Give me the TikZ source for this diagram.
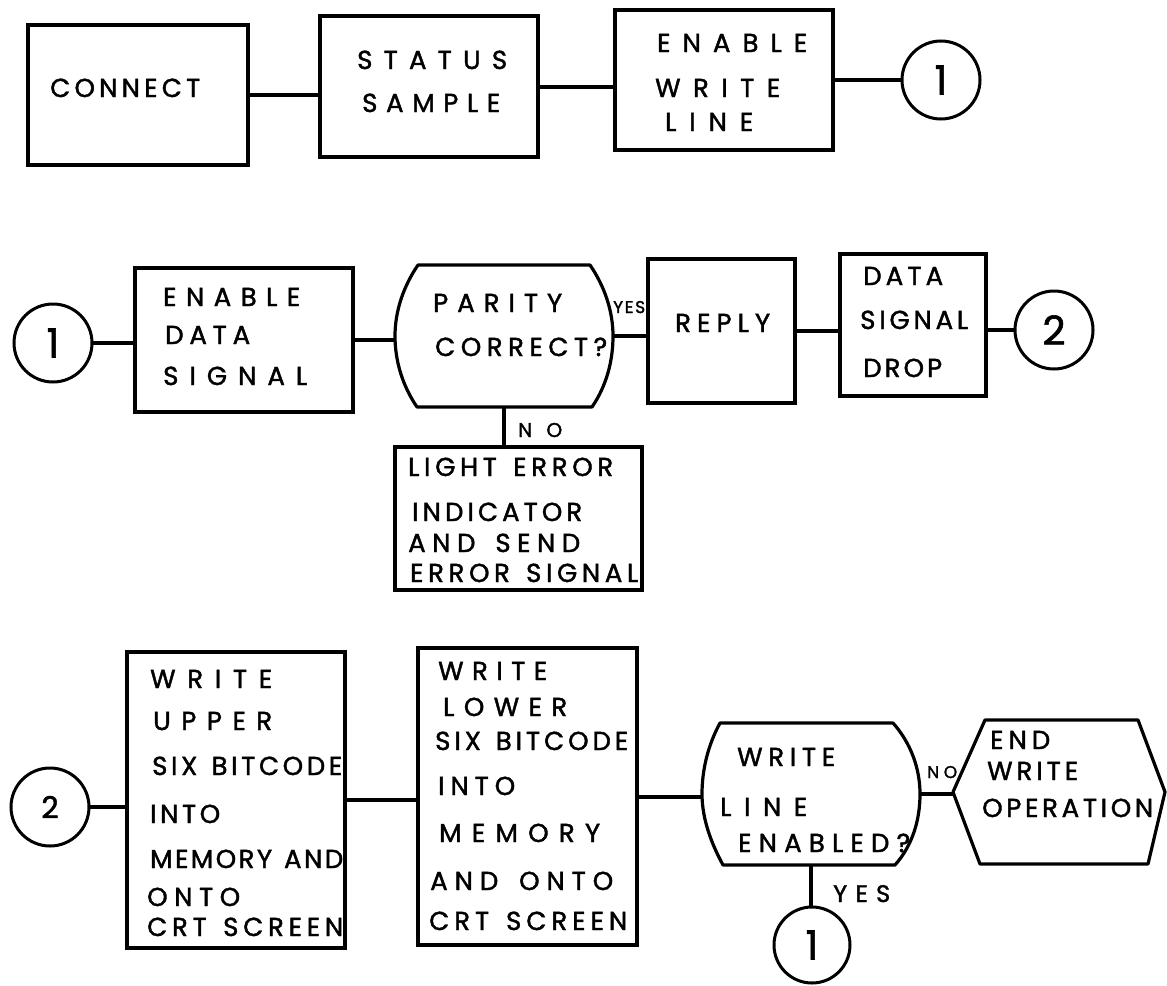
\documentclass[tikz,border=0pt]{standalone}
\usepackage{fontspec}
\setmainfont{Poppins}[FakeBold=1.6]
\def\spreadit#1{\spreadfirst#1\relax}
\def\spreadfirst#1{#1\spreadrest}
\def\spreadrest#1{\ifx#1\relax\else\hfill#1\expandafter\spreadrest\fi}
\newcommand\txtline[5]{\node[lbl] (#1) at (#2,#3) {\hbox to #4pt{\spreadit{#5}}};}
\begin{document}
\begin{tikzpicture}[x=1pt,y=-1pt,
  box/.style={draw, rectangle, line width=3.2pt, inner sep=0pt, outer sep=0pt},
  hold/.style={draw=none, rectangle, inner sep=0pt, outer sep=0pt},
  outline/.style={line width=3.2pt, line join=round},
  conn/.style={line width=4pt},
  circ/.style={draw, circle, line width=3pt, minimum size=78pt, inner sep=0pt, outer sep=0pt, font=\fontsize{40}{40}\selectfont},
  lbl/.style={inner sep=0pt, anchor=base west, font=\fontsize{26}{26}\selectfont},
  smalllbl/.style={inner sep=0pt, anchor=base west}]
\fill[white] (0,0) rectangle (1167,985);
\useasboundingbox (0,0) rectangle (1167,985);

% ---------- row 1 ----------
\node[box, minimum width=220pt, minimum height=140pt] (b1) at (138,95) {};
\node[box, minimum width=218pt, minimum height=141pt] (b2) at (429,86.5) {};
\node[box, minimum width=218pt, minimum height=140pt] (b3) at (724,80) {};
\node[circ] (c1) at (941,80) {1};

% ---------- row 2 ----------
\node[circ] (c2) at (53,343) {1};
\node[box, minimum width=218pt, minimum height=144pt] (b4) at (244,340) {};
\node[hold, minimum width=218pt, minimum height=142pt] (d1) at (504,336) {};
\node[box, minimum width=147pt, minimum height=144pt] (b5) at (721.5,331) {};
\node[box, minimum width=146pt, minimum height=142pt] (b6) at (913,325) {};
\node[circ] (c3) at (1054,330) {2};
\node[box, minimum width=247pt, minimum height=143pt] (b7) at (518.5,518.5) {};

% ---------- row 3 ----------
\node[circ, font=\fontsize{30}{30}\selectfont] (c4) at (50,807) {2};
\node[box, minimum width=218pt, minimum height=296pt] (b8) at (236,800) {};
\node[box, minimum width=219pt, minimum height=297pt] (b9) at (527.5,796.5) {};
\node[hold, minimum width=218pt, minimum height=142pt] (d2) at (811,794) {};
\node[hold, minimum width=212pt, minimum height=144pt] (h) at (1059,792) {};
\node[circ, minimum size=76pt] (c5) at (812,945) {1};

% decision outlines
\draw[outline] ([xshift=23pt]d1.north west) -- ([xshift=-23pt]d1.north east)
  .. controls +(14.3,20.9) and +(0,-25.3) .. (d1.east)
  .. controls +(0,25.3) and +(14.3,-20.9) .. ([xshift=-21pt]d1.south east)
  -- ([xshift=22pt]d1.south west)
  .. controls +(-14.3,-20.9) and +(0,25.3) .. (d1.west)
  .. controls +(0,-25.3) and +(-14.3,20.9) .. ([xshift=23pt]d1.north west) -- cycle;
\draw[outline] ([xshift=18pt]d2.north west) -- ([xshift=-27pt]d2.north east)
  .. controls +(17.4,19.6) and +(0,-26.2) .. (d2.east)
  .. controls +(0,26.2) and +(17.4,-19.6) .. ([xshift=-25pt]d2.south east)
  -- ([xshift=21pt]d2.south west)
  .. controls +(-11.8,-21.7) and +(0,24.7) .. (d2.west)
  .. controls +(0,-24.7) and +(-11.8,21.7) .. ([xshift=18pt]d2.north west) -- cycle;
% hexagon
\draw[outline] (h.west) -- ([xshift=32pt]h.north west) -- ([xshift=-27pt]h.north east)
  -- (h.east) -- ([xshift=-17pt]h.south east) -- ([xshift=27pt]h.south west) -- cycle;

% connectors
\draw[conn] (b1.east) -- (b1.east -| b2.west);
\draw[conn] (b2.east) -- (b2.east -| b3.west);
\draw[conn] (b3.east) -- (b3.east -| c1.west);
\draw[conn] (c2.east) -- (c2.east -| b4.west);
\draw[conn] (b4.east) -- (b4.east -| d1.west);
\draw[conn] (d1.east) -- (d1.east -| b5.west);
\draw[conn] (b5.east) -- (b5.east -| b6.west);
\draw[conn] (c3.west -| b6.east) -- (c3.west);
\draw[conn] (d1.south) -- (d1.south |- b7.north);
\draw[conn] (c4.east) -- (c4.east -| b8.west);
\draw[conn] (b8.east) -- (b8.east -| b9.west);
\draw[conn] (b9.east) -- (b9.east -| d2.west);
\draw[conn] (d2.east) -- (d2.east -| h.west);
\draw[conn] (d2.south) -- (d2.south |- c5.north);

% texts row 1
\txtline{t1}{50}{97}{150}{CONNECT}
\txtline{t2}{357}{69}{150}{STATUS}
\txtline{t3}{362}{112}{138}{SAMPLE}
\txtline{t4}{657}{52}{150}{ENABLE}
\txtline{t5}{655}{97}{125}{WRITE}
\txtline{t6}{665}{131}{88}{LINE}
% texts row 2
\txtline{t7}{163}{306}{137}{ENABLE}
\txtline{t8}{165}{344}{85}{DATA}
\txtline{t9}{163}{385}{144}{SIGNAL}
\txtline{t10}{433}{312}{129}{PARITY}
\txtline{t11}{435}{356}{172}{CORRECT?}
\txtline{t12}{675}{332}{95}{REPLY}
\txtline{t13}{863}{285}{80}{DATA}
\txtline{t14}{860}{329}{108}{SIGNAL}
\txtline{t15}{863}{377}{79}{DROP}
\txtline{t16}{408}{476}{205}{LIGHT~ERROR}
\txtline{t17}{412}{521}{170}{INDICATOR}
\txtline{t18}{408}{552}{172}{AND~SEND}
\txtline{t19}{410}{582}{228}{ERROR~SIGNAL}
% texts row 3
\txtline{t20}{150}{688}{122}{WRITE}
\txtline{t21}{153}{730}{119}{UPPER}
\txtline{t22}{152}{775}{190}{SIX~BITCODE}
\txtline{t23}{150}{823}{70}{INTO}
\txtline{t24}{150}{868}{193}{MEMORY~AND}
\txtline{t25}{147}{906}{93}{ONTO}
\txtline{t26}{147}{936}{196}{CRT~SCREEN}
\txtline{t27}{438}{680}{109}{WRITE}
\txtline{t28}{443}{716}{124}{LOWER}
\txtline{t29}{435}{750}{193}{SIX~BITCODE}
\txtline{t30}{438}{795}{77}{INTO}
\txtline{t31}{439}{842}{161}{MEMORY}
\txtline{t32}{430}{890}{183}{AND~ONTO}
\txtline{t33}{429}{930}{198}{CRT~SCREEN}
\txtline{t34}{737}{766}{98}{WRITE}
\txtline{t35}{720}{816}{87}{LINE}
\txtline{t36}{738}{852}{172}{ENABLED?}
\txtline{t37}{990}{749}{60}{END}
\txtline{t38}{987}{780}{91}{WRITE}
\txtline{t39}{982}{817}{171}{OPERATION}

% branch labels
\node[smalllbl, font=\fontsize{17}{17}\selectfont] (l1) at (613,313) {\hbox to 32pt{\spreadit{YES}}};
\node[smalllbl, font=\fontsize{20}{20}\selectfont] (l2) at (518,437) {\hbox to 44pt{\spreadit{NO}}};
\node[smalllbl, font=\fontsize{17}{17}\selectfont] (l3) at (927,778) {\hbox to 30pt{\spreadit{NO}}};
\node[smalllbl, font=\fontsize{24}{24}\selectfont] (l4) at (833,902) {\hbox to 57pt{\spreadit{YES}}};
\end{tikzpicture}
\end{document}
